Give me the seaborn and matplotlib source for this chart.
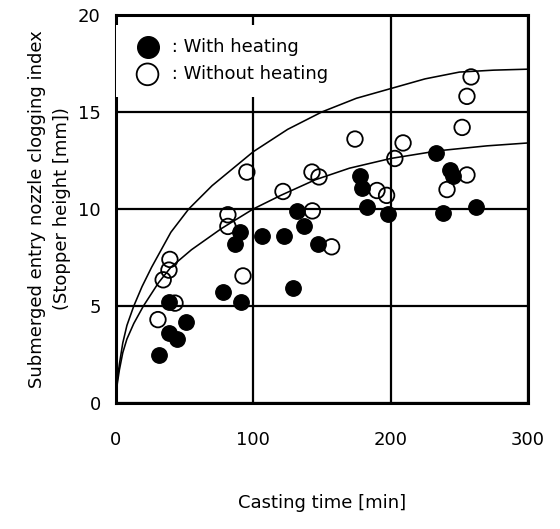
import matplotlib
matplotlib.use("Agg")
import matplotlib.pyplot as plt
import seaborn as sns

# With heating (filled circles)
heat_x = [31, 38.6, 44.4, 51, 38.6, 78, 91, 87, 90, 106, 122, 129, 132, 137, 147,
          178, 179, 183, 198, 233, 243, 245, 238, 262]
heat_y = [2.5, 3.6, 3.3, 4.2, 5.2, 5.7, 5.2, 8.2, 8.8, 8.6, 8.6, 5.95, 9.9, 9.1, 8.2,
          11.7, 11.1, 10.1, 9.75, 12.9, 12.0, 11.7, 9.8, 10.1]

# Without heating (open circles)
noheat_x = [30.6, 43, 34.4, 38.6, 39.3, 81.5, 81.5, 92.5, 95.3, 121.6, 142.7, 147.8,
            143, 157, 174, 190, 197, 203, 209, 241, 255.5, 252, 255.5, 258.5]
noheat_y = [4.3, 5.15, 6.35, 6.85, 7.4, 9.7, 9.1, 6.55, 11.9, 10.9, 11.9, 11.65,
            9.9, 8.05, 13.6, 10.95, 10.7, 12.6, 13.4, 11.0, 11.75, 14.2, 15.8, 16.8]

# trend curves
upper_x = [0, 1, 2.5, 5, 8, 13, 19, 26, 40, 53, 70, 100, 125, 150, 175, 200, 225, 250, 275, 300]
upper_y = [0, 1.2, 2.0, 3.1, 4.0, 5.0, 6.0, 7.0, 8.8, 10.0, 11.2, 12.95, 14.1, 15.0,
           15.7, 16.2, 16.7, 17.05, 17.15, 17.2]
lower_x = [0, 1, 2.5, 5, 8, 13, 20, 31, 40, 55, 77, 100, 120, 145, 170, 200, 235, 270, 300]
lower_y = [0, 1.0, 1.7, 2.6, 3.3, 4.1, 5.0, 6.2, 7.0, 7.9, 9.0, 10.0, 10.7, 11.5, 12.1,
           12.6, 13.0, 13.25, 13.4]

x_ticks = [0, 100, 200, 300]
y_ticks = [0, 5, 10, 15, 20]

sns.set_style("white")
plt.rcParams['font.family'] = ['DejaVu Sans']
plt.rcParams['text.color'] = 'black'
plt.rcParams['axes.labelcolor'] = 'black'
plt.rcParams['xtick.color'] = 'black'
plt.rcParams['ytick.color'] = 'black'

fig = plt.figure(figsize=(5.6, 5.29), dpi=100)
ax = fig.add_axes([0.207, 0.238, 0.736, 0.734])

sns.lineplot(x=upper_x, y=upper_y, color='black', lw=1.15, sort=False, estimator=None, ax=ax)
sns.lineplot(x=lower_x, y=lower_y, color='black', lw=1.15, sort=False, estimator=None, ax=ax)

sns.scatterplot(x=noheat_x, y=noheat_y, s=125, facecolors='none', edgecolor='black',
                linewidth=1.3, ax=ax, label=' : Without heating', zorder=3)
sns.scatterplot(x=heat_x, y=heat_y, s=125, color='black', edgecolor='black',
                ax=ax, label=' : With heating', zorder=3)

ax.set_xlim(0, 300)
ax.set_ylim(0, 20)
ax.set_xticks(x_ticks)
ax.set_yticks(y_ticks)
ax.grid(True, color='black', lw=1.6)
ax.set_axisbelow(True)
for sp in ax.spines.values():
    sp.set_color('black')
    sp.set_linewidth(2.2)
ax.tick_params(axis='both', length=0, labelsize=13, colors='black')
ax.tick_params(axis='x', pad=20)
ax.tick_params(axis='y', pad=11)

ax.set_xlabel('Casting time [min]', fontsize=13)
ax.set_ylabel('Submerged entry nozzle clogging index\n(Stopper height [mm])',
              fontsize=13, linespacing=1.5)
ax.xaxis.set_label_coords(0.5, -0.235)
ax.yaxis.set_label_coords(-0.11, 0.5)

h, l = ax.get_legend_handles_labels()
leg = ax.legend(h[::-1], l[::-1], loc='upper left', bbox_to_anchor=(0.0, 0.975),
                fontsize=13, frameon=True, facecolor='white', edgecolor='white',
                framealpha=1, fancybox=False, handletextpad=0.0, markerscale=1.4,
                labelspacing=0.5, borderaxespad=0.0, borderpad=0.75, handlelength=2.0)
leg.get_frame().set_linewidth(0)

fig.savefig('out.png', dpi=100)
